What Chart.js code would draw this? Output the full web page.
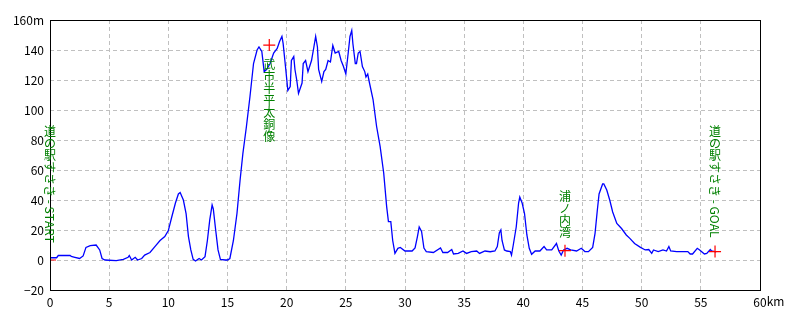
<!DOCTYPE html>
<html><head><meta charset="utf-8">
<script src="https://cdn.jsdelivr.net/npm/chart.js@4/dist/chart.umd.min.js"></script>
<style>html,body{margin:0;padding:0;background:#fff}canvas{display:block}</style>
</head><body><canvas id="c" width="800" height="320"></canvas>
<script>
// ---- data ----
const distanceKm = [0,0.56,0.7,1.7,1.8,2.1,2.5,2.8,3.04,3.4,3.9,4.2,4.4,4.65,5.6,6.2,6.6,6.7,6.9,7.2,7.4,7.75,8.0,8.45,8.9,9.3,9.7,10.0,10.3,10.6,10.85,11.0,11.27,11.5,11.7,11.9,12.1,12.3,12.6,12.8,13.1,13.3,13.5,13.7,13.8,14.0,14.2,14.4,14.8,15.0,15.2,15.5,15.8,16.06,16.3,16.6,16.9,17.2,17.5,17.66,17.9,18.1,18.3,18.6,18.9,19.2,19.4,19.6,19.7,19.9,20.1,20.3,20.4,20.6,20.7,20.85,21.0,21.3,21.4,21.6,21.8,22.1,22.3,22.45,22.6,22.7,22.96,23.15,23.3,23.5,23.7,23.9,24.1,24.4,24.6,24.8,25.0,25.2,25.35,25.5,25.6,25.8,25.9,26.05,26.2,26.4,26.6,26.7,26.85,27.0,27.3,27.6,27.9,28.2,28.45,28.6,28.8,28.96,29.15,29.4,29.6,30.0,30.6,30.85,31.05,31.2,31.4,31.6,31.8,32.4,33.0,33.2,33.6,33.95,34.1,34.5,34.9,35.2,35.6,36.06,36.3,36.76,37.2,37.6,37.8,37.97,38.1,38.2,38.4,38.6,38.9,39.0,39.15,39.4,39.6,39.7,39.9,40.1,40.3,40.5,40.7,41.0,41.4,41.75,41.97,42.4,42.8,43.0,43.2,43.4,43.7,44.0,44.5,44.9,45.2,45.5,45.86,46.06,46.25,46.4,46.7,46.8,47.05,47.3,47.55,47.9,48.3,48.7,49.0,49.4,49.9,50.3,50.6,50.85,51.0,51.4,51.8,52.1,52.3,52.45,52.96,53.9,54.1,54.3,54.7,54.9,55.3,55.5,55.8,55.9,56.2,56.3];
const elevationM = [1.5,1.5,3,3,2.4,1.8,1,2.7,8.4,9.6,10,6.7,1,0,-0.4,0.4,1.8,3,0,1.8,0,1,3.3,5,9.3,13,15.6,19.6,29,38,44,45,40,31,15.6,6.7,0.4,-0.7,1,0,2.2,13,26.7,36.7,34,20,6.7,0.4,0,0,1,13,31,53,71,89,109,131,140,142,139,125.6,127,131,138,141,145.6,149,144.4,129,113,115.6,133,135.6,127,120,111,118,131,133,125.6,133,142,149,142,127,119,125.6,127,133,132,143,138,139,133,129,124,138,149,153,144,131,131,138,139,129,125.6,122,124,118,107,89,75.6,58,35.6,25.6,25.6,13,4.4,7.8,8.4,6,6,8,15.6,22,19,8,5.6,5,8,5,5,7,4,4.4,6,4.4,5.6,6,4.4,6,5.5,6,9,18,20,13,6.7,6,5.6,3.3,10,22,38,42,38,31,16.7,7.8,3.8,6,6,9,6.7,6.7,11,6,3.3,6.7,7.8,6.7,6,7.8,5.6,5.6,8.4,17.8,33,44,50.7,50.7,46.7,40,32,24.4,21,16.7,14.4,11,8.4,6.7,7,4.4,6.7,5.6,6.7,6,9,6,5.6,5.6,4,4,7.8,6.7,4,4.4,7,6,5.6,5.3];
const markerKm = [0, 18.53, 43.52, 56.2];
const markerElev = [0, 143.3, 6.2, 5.6];
const markerLabels = ['道の駅すさき - START', '武市半平太銅像', '浦ノ内湾', '道の駅すさき - GOAL'];
const labelTopElev = [90, 134.7, 46.7, 90];
const xUnit = 'km';
const yUnit = 'm';

const FONT = "'Noto Sans CJK JP', 'Noto Sans', sans-serif";

const profilePoints = distanceKm.map((x, i) => ({x, y: elevationM[i]}));
const markerPoints = markerKm.map((x, i) => ({x, y: markerElev[i]}));

const frameAndLabels = {
  id: 'frameAndLabels',
  afterDatasetsDraw(chart) {
    const {ctx, chartArea: a, scales} = chart;
    const xs = scales.x, ys = scales.y;
    ctx.save();
    ctx.strokeStyle = '#000';
    ctx.lineWidth = 1;
    ctx.setLineDash([]);
    ctx.strokeRect(Math.round(a.left) + 0.5, Math.round(a.top) + 0.5, Math.round(a.right - a.left), Math.round(a.bottom - a.top));
    const size = 12;
    ctx.font = size + 'px ' + FONT;
    ctx.fillStyle = '#008000';
    const upright = /[\u4e00-\u9fffのノ]/;
    markerLabels.forEach((txt, i) => {
      const cx = xs.getPixelForValue(markerKm[i]);
      let y = ys.getPixelForValue(labelTopElev[i]);
      for (const ch of txt) {
        if (upright.test(ch)) {
          ctx.textAlign = 'center';
          ctx.textBaseline = 'middle';
          ctx.fillText(ch, cx, y + size / 2);
          y += size;
        } else {
          const w = ctx.measureText(ch).width;
          ctx.save();
          ctx.translate(cx, y);
          ctx.rotate(Math.PI / 2);
          ctx.textAlign = 'left';
          ctx.textBaseline = 'middle';
          ctx.fillText(ch, 0, 0);
          ctx.restore();
          y += w;
        }
      }
    });
    ctx.restore();
  },
  afterDraw(chart) {
    const {ctx, scales} = chart;
    const xs = scales.x;
    ctx.save();
    ctx.font = '12px ' + FONT;
    ctx.fillStyle = '#000';
    const w = ctx.measureText('60').width;
    ctx.textAlign = 'left';
    ctx.textBaseline = 'middle';
    ctx.fillText(xUnit, xs.getPixelForValue(60) + w / 2, xs.top + 11);
    ctx.restore();
  }
};

new Chart(document.getElementById('c'), {
  type: 'line',
  data: {
    datasets: [
      {
        data: markerPoints,
        showLine: false,
        pointStyle: 'cross',
        pointRadius: 6,
        pointHoverRadius: 6,
        pointBorderColor: '#ff0000',
        pointBorderWidth: 1.2,
        borderColor: '#ff0000',
        order: 0
      },
      {
        data: profilePoints,
        borderColor: '#0000ff',
        borderWidth: 1.3,
        pointRadius: 0,
        tension: 0,
        fill: false,
        order: 1
      }
    ]
  },
  options: {
    responsive: false,
    animation: false,
    events: [],
    layout: {padding: {top: 20, right: 40, left: 0, bottom: 0}},
    plugins: {legend: {display: false}, tooltip: {enabled: false}},
    scales: {
      x: {
        type: 'linear', min: 0, max: 60,
        afterFit(s) { s.height = 30; },
        grid: {color: '#c0c0c0', drawTicks: false, lineWidth: 1},
        border: {display: false, dash: [4, 3]},
        ticks: {stepSize: 5, padding: 5, color: '#000', font: {family: FONT, size: 12}, maxRotation: 0, autoSkip: false,
          callback: v => String(v)}
      },
      y: {
        type: 'linear', min: -20, max: 160,
        afterFit(s) { s.width = 50; },
        grid: {color: '#c0c0c0', drawTicks: false, lineWidth: 1},
        border: {display: false, dash: [4, 3]},
        ticks: {stepSize: 20, padding: 6, color: '#000', font: {family: FONT, size: 12},
          callback: v => v === 160 ? '160' + yUnit : (v < 0 ? '\u2212' + Math.abs(v) : String(v))}
      }
    }
  },
  plugins: [frameAndLabels]
});
</script>
</body></html>
